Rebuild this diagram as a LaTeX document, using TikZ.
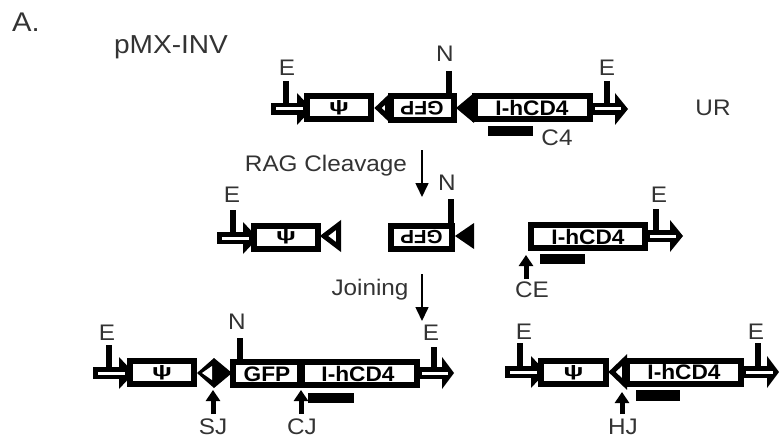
\documentclass[tikz,border=0pt]{standalone}
\usepackage{fontspec}
\setmainfont[FakeStretch=1.08]{Liberation Sans}
\usetikzlibrary{arrows.meta}
\definecolor{labelgray}{HTML}{333333}
\newcommand{\genearrow}[4]{%
  \fill (#1,#4-6) rectangle (#2+1,#4+6);
  \fill (#2,#4-16) -- (#3,#4) -- (#2,#4+16) -- cycle;
  \draw[white,line width=3pt] (#1+5,#4) -- (#2+6,#4);}
\newcommand{\opentri}[4]{\draw[tri,fill=white] (#1+3,#4) -- (#2-2.5,#3) -- (#2-2.5,2*#4-#3) -- cycle;}
\newcommand{\solidtri}[4]{\fill (#1,#4) -- (#2,#3) -- (#2,2*#4-#3) -- cycle;}
\newcommand{\psisym}{\scalebox{1.55}[1.05]{\fontsize{16}{16}\selectfont\bfseries ψ}}
\tikzset{
  x=1pt,y=-1pt,
  genebox/.style={draw=black,fill=white,line width=6pt,inner sep=0pt,font=\fontsize{21}{21}\selectfont\bfseries,text=black},
  boxtext/.style={inner sep=0pt,text=black},
  lab/.style={text=labelgray,inner sep=0pt,font=\fontsize{22.5}{22.5}\selectfont},
  stem/.style={line width=6pt},
  tri/.style={line width=5pt,line join=miter},
  probe/.style={fill=black,inner sep=0pt,minimum height=10pt},
  flow/.style={line width=1.6pt,-{Triangle[width=13pt,length=14pt]}},
  pointer/.style={line width=5pt,-{Triangle[width=14pt,length=11pt]}}
}
\begin{document}
\begin{tikzpicture}
\useasboundingbox (0,0) rectangle (781,441);
\node[lab,font=\fontsize{27}{27}\selectfont] (A) at (26,22) {A.};
\node[lab,font=\fontsize{26}{26}\selectfont] (pmx) at (171,47) {pMX-INV};
\node[lab] (UR) at (713,108) {UR};

% ---------- top row
\genearrow{271}{297}{312}{109}
\genearrow{590}{615}{628}{109}
\node[genebox,minimum width=64pt,minimum height=23pt] (psiA) at (339,108) {\psisym};
\opentri{375}{390}{99}{108}
\node[genebox,minimum width=63pt,minimum height=24pt] (gfpA) at (422,108) {\rotatebox{180}{\fontsize{19.5}{19.5}\selectfont GFP}};
\solidtri{456}{474}{93}{108}
\node[genebox,minimum width=115pt,minimum height=23pt] (cdA) at (532,108) {I-hCD4};
\node[lab] (EA1) at (287,68) {E};
\node[lab] (EA2) at (607,68) {E};
\node[lab] (NA) at (445,54) {N};
\coordinate (sA1) at (286,81); \coordinate (eA1) at (286,104);
\coordinate (sA2) at (607,81); \coordinate (eA2) at (607,104);
\coordinate (sA3) at (448.5,71);
\draw[stem] (sA1) -- (eA1);
\draw[stem] (sA2) -- (eA2);
\draw[stem] (sA3) -- (sA3 |- gfpA.north);
\node[probe,minimum width=45pt] (barA) at (510.5,131) {};
\node[lab] (C4) at (557,138) {C4};

% ---------- RAG arrow
\node[lab] (rag) at (326,166) {RAG Cleavage};
\coordinate (ragS) at (422,150); \coordinate (ragE) at (422,197);
\draw[flow] (ragS) -- (ragE);

% ---------- middle row
\genearrow{217}{243}{258}{238}
\genearrow{645}{670}{683}{236}
\node[genebox,minimum width=64pt,minimum height=23pt] (psiB) at (286,237) {\psisym};
\opentri{321}{341}{225}{236}
\node[genebox,minimum width=61pt,minimum height=23pt] (gfpB) at (421.5,237) {\rotatebox{180}{\fontsize{19}{19}\selectfont GFP}};
\solidtri{455}{474}{223}{236}
\node[genebox,minimum width=114pt,minimum height=23pt] (cdB) at (588,236.5) {I-hCD4};
\node[lab] (EB1) at (232,195) {E};
\node[lab] (EB2) at (659,195) {E};
\node[lab] (NB) at (447,183) {N};
\coordinate (sB1) at (232.5,210); \coordinate (eB1) at (232.5,233);
\coordinate (sB2) at (656,209); \coordinate (eB2) at (656,231);
\coordinate (sB3) at (451,199);
\draw[stem] (sB1) -- (eB1);
\draw[stem] (sB2) -- (eB2);
\draw[stem] (sB3) -- (sB3 |- gfpB.north);
\node[probe,minimum width=45pt] (barB) at (562,259) {};
\node[lab] (CE) at (532,290) {CE};
\coordinate (ceS) at (526,279); \coordinate (ceE) at (526,255);
\draw[pointer] (ceS) -- (ceE);

% ---------- joining arrow
\node[lab] (join) at (370,290) {Joining};
\coordinate (joinS) at (422,274); \coordinate (joinE) at (422,321);
\draw[flow] (joinS) -- (joinE);

% ---------- bottom left
\genearrow{93}{119}{134}{373}
\genearrow{417}{442}{454}{373}
\node[genebox,minimum width=64pt,minimum height=23pt] (psiC) at (162,372.5) {\psisym};
\fill (197,373) -- (214,358) -- (232,373) -- (214,388) -- cycle;
\fill[white] (202,373) -- (212,366) -- (212,380) -- cycle;
\node[genebox,minimum width=184pt,minimum height=23pt] (cdC) at (325,373.5) {};
\node[boxtext,font=\fontsize{21}{21}\selectfont\bfseries] (gfpC) at (267,374) {GFP};
\node[boxtext,font=\fontsize{21}{21}\selectfont\bfseries] (cdCt) at (358,374) {I-hCD4};
\fill (297,362) rectangle (305,385);
\node[lab] (EC1) at (107,333) {E};
\node[lab] (EC2) at (431,333) {E};
\node[lab] (NC) at (237,322) {N};
\coordinate (sC1) at (108.5,345); \coordinate (eC1) at (108.5,368);
\coordinate (sC2) at (433.5,347); \coordinate (eC2) at (433.5,369);
\coordinate (sC3) at (240,338);
\draw[stem] (sC1) -- (eC1);
\draw[stem] (sC2) -- (eC2);
\draw[stem] (sC3) -- (sC3 |- cdC.north);
\node[probe,minimum width=46pt] (barC) at (331,397.5) {};
\node[lab] (SJ) at (213,427) {SJ};
\node[lab] (CJ) at (302,427) {CJ};
\coordinate (sjS) at (213,414); \coordinate (sjE) at (213,390);
\coordinate (cjS) at (301,414); \coordinate (cjE) at (301,390);
\draw[pointer] (sjS) -- (sjE);
\draw[pointer] (cjS) -- (cjE);

% ---------- bottom right
\genearrow{505}{531}{546}{372}
\genearrow{741}{767}{779}{372}
\node[genebox,minimum width=65pt,minimum height=23pt] (psiD) at (573.5,372.5) {\psisym};
\opentri{609}{627}{360}{372}
\node[genebox,minimum width=114pt,minimum height=23pt] (cdD) at (684,372) {I-hCD4};
\node[lab] (ED1) at (524,332) {E};
\node[lab] (ED2) at (756,332) {E};
\coordinate (sD1) at (520,343); \coordinate (eD1) at (520,367);
\coordinate (sD2) at (758,343); \coordinate (eD2) at (758,367);
\draw[stem] (sD1) -- (eD1);
\draw[stem] (sD2) -- (eD2);
\node[probe,minimum width=44pt,minimum height=11pt] (barD) at (658,395) {};
\node[lab] (HJ) at (623,427) {HJ};
\coordinate (hjS) at (622,414); \coordinate (hjE) at (622,392);
\draw[pointer] (hjS) -- (hjE);
\end{tikzpicture}
\end{document}
